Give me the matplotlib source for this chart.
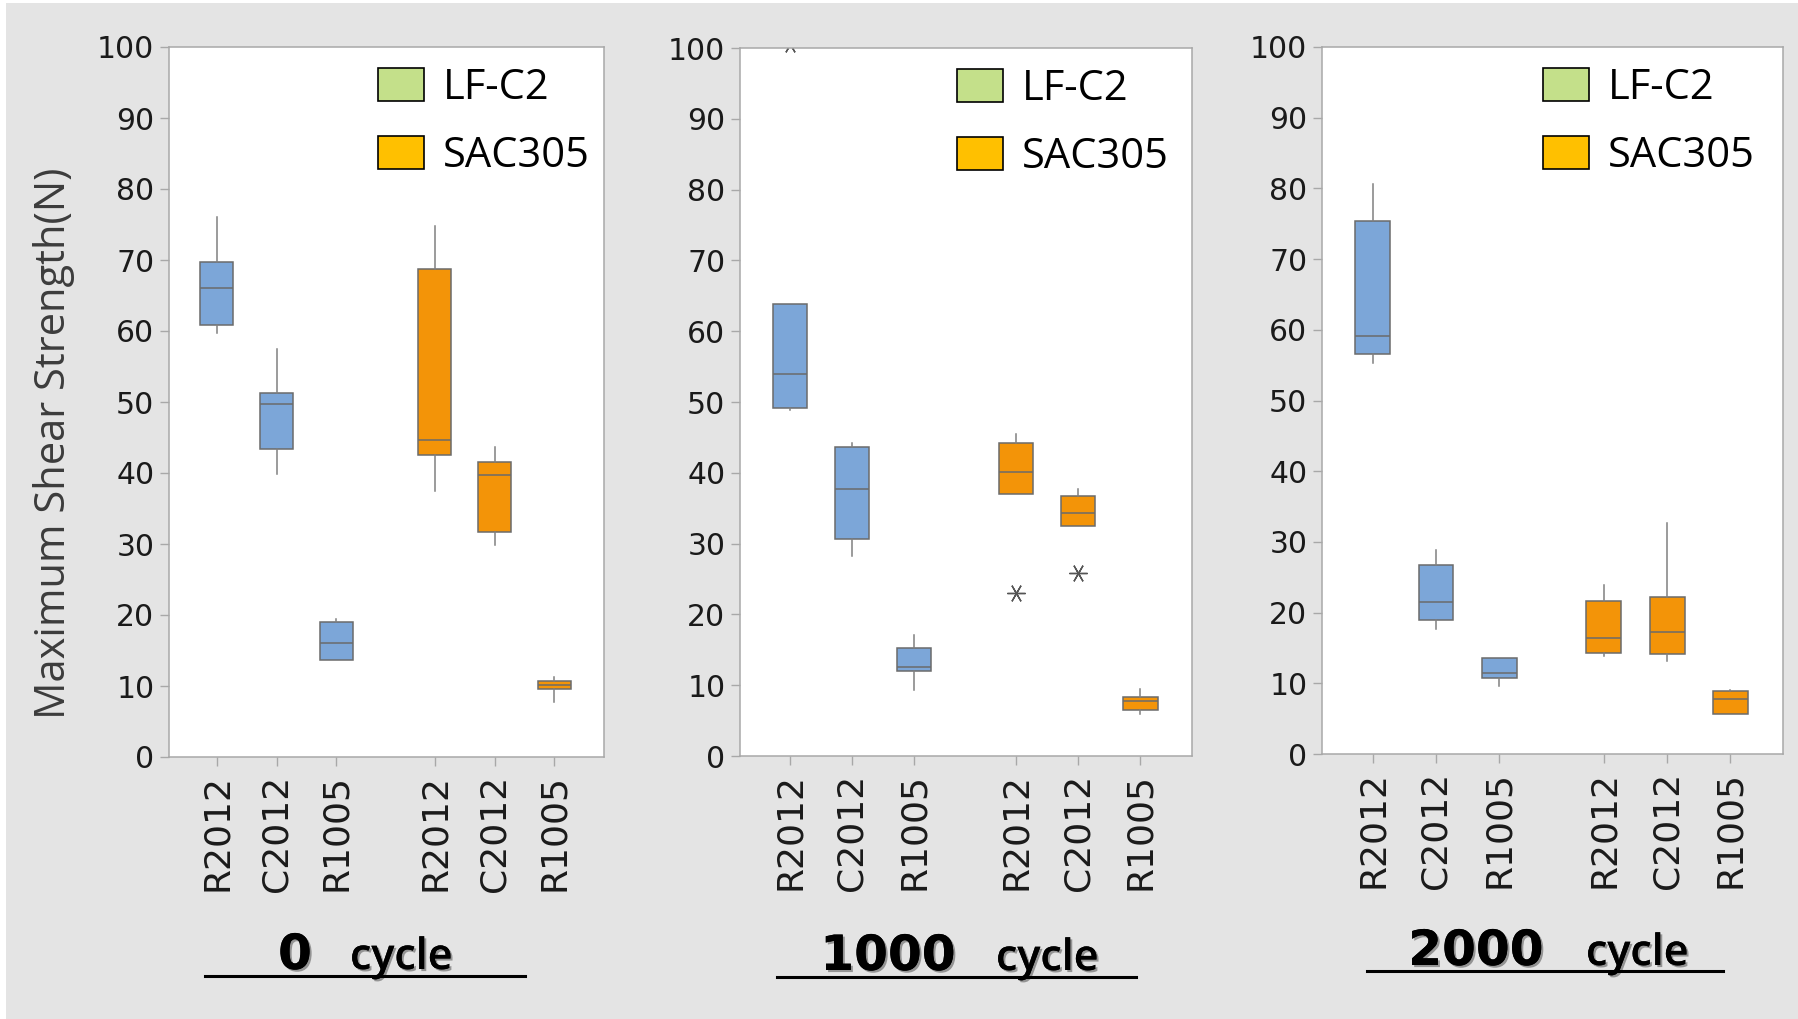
import matplotlib
matplotlib.use('Agg')
import matplotlib.pyplot as plt
import matplotlib.patheffects as pe
from matplotlib.patches import Patch, Rectangle
from matplotlib.lines import Line2D


# Box categories (3 LF-C2 boxes, then 3 SAC305 boxes)
categories = ['R2012', 'C2012', 'R1005', 'R2012', 'C2012', 'R1005']
groups = ['LF-C2', 'LF-C2', 'LF-C2', 'SAC305', 'SAC305', 'SAC305']
cycles = ['0', '1000', '2000']

# 0 cycle
whishi_0 = [76.0, 57.4, 19.5, 74.8, 43.7, 11.3]
q3_0 = [69.7, 51.3, 19.0, 68.7, 41.6, 10.7]
med_0 = [66.0, 49.7, 16.0, 44.6, 39.7, 10.1]
q1_0 = [60.8, 43.4, 13.7, 42.6, 31.7, 9.6]
whislo_0 = [59.7, 39.9, 13.7, 37.5, 29.9, 7.7]
fliers_0 = [[], [], [], [], [], []]

# 1000 cycle
whishi_1000 = [63.9, 44.2, 17.1, 45.5, 37.7, 9.4]
q3_1000 = [63.9, 43.7, 15.2, 44.2, 36.7, 8.3]
med_1000 = [54.0, 37.7, 12.6, 40.1, 34.3, 7.7]
q1_1000 = [49.1, 30.6, 12.0, 37.0, 32.5, 6.5]
whislo_1000 = [48.8, 28.3, 9.3, 37.0, 32.5, 5.9]
fliers_1000 = [[100.6], [], [], [23.0], [25.9], []]

# 2000 cycle
whishi_2000 = [80.6, 28.8, 13.6, 23.9, 32.7, 9.1]
q3_2000 = [75.4, 26.7, 13.6, 21.7, 22.2, 8.9]
med_2000 = [59.1, 21.5, 11.4, 16.4, 17.2, 7.8]
q1_2000 = [56.6, 18.9, 10.7, 14.3, 14.1, 5.6]
whislo_2000 = [55.3, 17.7, 9.6, 13.8, 13.2, 5.6]
fliers_2000 = [[], [], [], [], [], []]

yticks = [0, 10, 20, 30, 40, 50, 60, 70, 80, 90, 100]

panelData = [
    (whishi_0, q3_0, med_0, q1_0, whislo_0, fliers_0),
    (whishi_1000, q3_1000, med_1000, q1_1000, whislo_1000, fliers_1000),
    (whishi_2000, q3_2000, med_2000, q1_2000, whislo_2000, fliers_2000),
]

boxColor = {'LF-C2': '#7ca6d8', 'SAC305': '#f39408'}
legendColor = {'LF-C2': '#c4e08a', 'SAC305': '#ffc000'}
edgeGray = '#6b6b6b'
frameGray = '#a8a8a8'
bgGray = '#e4e4e4'

W, H = 1798, 1019
fig = plt.figure(figsize=(W / 100, H / 100), dpi=100, facecolor='white')
# gray background (thin white strip on the left / top edge like the screenshot)
fig.patches.append(Rectangle((6 / W, 0), 1, 1 - 3 / H, transform=fig.transFigure,
                             facecolor=bgGray, edgecolor='none', zorder=-10))

# axes rectangles in pixels: left, right, top, bottom
axPix = [(169, 604, 47, 757), (740, 1192, 48, 756), (1322, 1783, 47, 754)]
positions = [1, 2, 3, 4.65, 5.65, 6.65]

for i, (l, r, t, b) in enumerate(axPix):
    ax = fig.add_axes([l / W, 1 - b / H, (r - l) / W, (b - t) / H])
    whishi, q3, med, q1, whislo, fliers = panelData[i]
    stats = []
    for k in range(len(categories)):
        stats.append({'med': med[k], 'q1': q1[k], 'q3': q3[k],
                      'whislo': whislo[k], 'whishi': whishi[k],
                      'fliers': fliers[k], 'label': categories[k]})
    bp = ax.bxp(stats, positions=positions, widths=0.55, patch_artist=True,
                showcaps=False, showfliers=True,
                boxprops=dict(edgecolor=edgeGray, linewidth=1.1),
                medianprops=dict(color=edgeGray, linewidth=1.1),
                whiskerprops=dict(color='#808080', linewidth=1.1),
                flierprops=dict(marker=(6, 2, 90), markersize=13,
                                markeredgecolor='#555555', markeredgewidth=1.0,
                                linestyle='none'))
    for patch, g in zip(bp['boxes'], groups):
        patch.set_facecolor(boxColor[g])

    ax.set_ylim(0, 100)
    ax.set_xlim(0.2, 7.48)
    ax.set_yticks(yticks)
    ax.set_xticks(positions)
    ax.set_xticklabels(categories, rotation=90, fontsize=26, color='#1a1a1a')
    ax.tick_params(axis='y', labelsize=21.5, labelcolor='#1a1a1a', color=frameGray,
                   length=6.5, width=1.0, pad=4)
    ax.tick_params(axis='x', color=frameGray, length=6.5, width=1.0, pad=6)
    for s in ax.spines.values():
        s.set_color(frameGray)
        s.set_linewidth(1.1)
    ax.set_facecolor('white')

    handles = [Patch(facecolor=legendColor[g], edgecolor='black', linewidth=1.2)
               for g in ['LF-C2', 'SAC305']]
    ax.legend(handles, ['LF-C2', 'SAC305'], loc='upper left',
              bbox_to_anchor=(0.48, 0.972), frameon=False,
              prop={'family': 'Open Sans', 'size': 30},
              handlelength=1.1, handleheight=0.85, handletextpad=0.45,
              labelspacing=0.62, borderpad=0, borderaxespad=0)

    if i == 0:
        fig.text(54 / W, 1 - 443 / H, 'Maximum Shear Strength(N)', rotation=90,
                 ha='center', va='center', fontsize=30, color='#3c3c3c',
                 family='Open Sans')

# "N cycle" captions under each panel with underline
shadow = [pe.withSimplePatchShadow(offset=(1.5, -1.5), alpha=0.35), pe.Normal()]
# (number center x, cycle left x, baseline y, line x0, line x1, line y) in pixels
captionPix = [(295, 350, 969, 205, 525, 976),
              (888, 996, 970, 777, 1136, 977),
              (1476, 1586, 965, 1367, 1723, 971)]
for c, (nx, cx, by, x0, x1, ly) in zip(cycles, captionPix):
    fig.text(nx / W, 1 - by / H, c, ha='center', va='baseline', fontsize=35,
             fontweight='bold', color='black', path_effects=shadow)
    fig.text(cx / W, 1 - by / H, 'cycle', ha='left', va='baseline', fontsize=31,
             fontweight='semibold', family='Open Sans', color='black',
             path_effects=shadow)
    fig.add_artist(Line2D([x0 / W, x1 / W], [1 - ly / H, 1 - ly / H],
                          color='black', linewidth=2.2, transform=fig.transFigure))

fig.savefig('out.png', dpi=100, facecolor=fig.get_facecolor())
